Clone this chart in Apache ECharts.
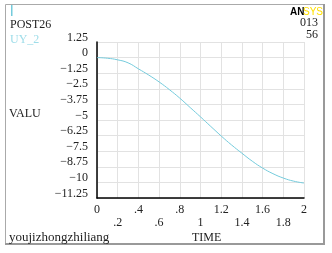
<!DOCTYPE html>
<html>
<head>
<meta charset="utf-8">
<script src="https://cdn.jsdelivr.net/npm/echarts@6/dist/echarts.min.js"></script>
<style>
  html, body { margin: 0; padding: 0; background: #fff; }
  #chart { width: 332px; height: 253px; }
</style>
</head>
<body>
<div id="chart"></div>
<script>
// POST26 time history, UY_2 vs TIME
var timeVals = [0, 0.1, 0.2, 0.3, 0.4, 0.5, 0.6, 0.7, 0.8, 0.9, 1.0,
                1.1, 1.2, 1.3, 1.4, 1.5, 1.6, 1.7, 1.8, 1.9, 2.0];
var uy2 = [0, -0.05, -0.18, -0.42, -0.9, -1.4, -1.95, -2.57, -3.25, -4.0, -4.75,
           -5.52, -6.28, -7.0, -7.66, -8.3, -8.85, -9.3, -9.65, -9.9, -10.05];

var font = '"Liberation Serif", "DejaVu Serif", serif';
var lineColor = '#74cbdc';

function fmtX(v){
  var s = (Math.round(v * 10) / 10).toString();
  if (s.indexOf('0.') === 0) s = s.slice(1);
  return s;
}
function fmtY(v){
  var s = (Math.round(v * 100) / 100).toString();
  return s.replace('-', '\u2212');
}

var chart = echarts.init(document.getElementById('chart'));
chart.setOption({
  animation: false,
  grid: { left: 97, top: 42, width: 207, height: 156, containLabel: false },
  xAxis: {
    type: 'value',
    min: 0, max: 2, interval: 0.2,
    axisLine: { show: true, onZero: false, lineStyle: { color: '#000', width: 1.5 } },
    axisTick: { show: false },
    splitLine: { show: true, lineStyle: { color: '#e2e2e2', width: 1 } },
    axisLabel: {
      margin: 5,
      color: '#222',
      fontFamily: font,
      fontSize: 12,
      lineHeight: 13,
      showMinLabel: true,
      showMaxLabel: true,
      formatter: function(v){
        var idx = Math.round(v / 0.2);
        return (idx % 2 === 1 ? '\n' : '') + fmtX(v);
      }
    }
  },
  yAxis: {
    type: 'value',
    min: -11.25, max: 1.25, interval: 1.25,
    axisLine: { show: true, onZero: false, lineStyle: { color: '#000', width: 1.5 } },
    axisTick: { show: false },
    splitLine: { show: true, lineStyle: { color: '#e2e2e2', width: 1 } },
    axisLabel: {
      margin: 9,
      color: '#222',
      fontFamily: font,
      fontSize: 12,
      lineHeight: 9,
      verticalAlign: 'bottom',
      showMinLabel: true,
      showMaxLabel: true,
      formatter: fmtY
    }
  },
  series: [{
    name: 'UY_2',
    type: 'line',
    smooth: true,
    symbol: 'none',
    lineStyle: { color: lineColor, width: 1 },
    data: timeVals.map(function(t, i){ return [t, uy2[i]]; })
  }],
  graphic: [
    // frame
    { type: 'line', shape: { x1: 5.5, y1: 4.5, x2: 323, y2: 4.5 }, style: { stroke: '#aaa', lineWidth: 1 } },
    { type: 'line', shape: { x1: 5.5, y1: 4.5, x2: 5.5, y2: 244 }, style: { stroke: '#aaa', lineWidth: 1 } },
    { type: 'line', shape: { x1: 324, y1: 4, x2: 324, y2: 245 }, style: { stroke: '#999', lineWidth: 2 } },
    { type: 'line', shape: { x1: 5, y1: 244, x2: 325, y2: 244 }, style: { stroke: '#999', lineWidth: 2 } },
    // small cyan marker
    { type: 'rect', shape: { x: 11, y: 5, width: 1.5, height: 11 }, style: { fill: lineColor } },
    { type: 'text', left: 10, top: 19, style: { text: 'POST26', font: '12px ' + font, fill: '#222' } },
    { type: 'text', left: 10, top: 34, style: { text: 'UY_2', font: '12px ' + font, fill: '#9fdde9' } },
    { type: 'text', left: 9, top: 108, style: { text: 'VALU', font: '12px ' + font, fill: '#222' } },
    { type: 'text', left: 9, top: 231, style: { text: 'youjizhongzhiliang', font: '13px ' + font, fill: '#222' } },
    { type: 'text', left: 192, top: 232, style: { text: 'TIME', font: '12px ' + font, fill: '#222' } },
    // ANSYS mark
    { type: 'text', left: 290, top: 7, style: { text: 'AN', font: 'bold 10px "Liberation Sans Narrow", "Liberation Sans", sans-serif', fill: '#000' } },
    { type: 'text', left: 303, top: 7, style: { text: 'SYS', font: '10px "Liberation Sans Narrow", "Liberation Sans", sans-serif', fill: '#ffe000' } },
    { type: 'text', right: 14, top: 17, style: { text: '013', font: '12px ' + font, fill: '#222', align: 'right' } },
    { type: 'text', right: 14, top: 29, style: { text: '56', font: '12px ' + font, fill: '#222', align: 'right' } }
  ]
});
</script>
</body>
</html>
